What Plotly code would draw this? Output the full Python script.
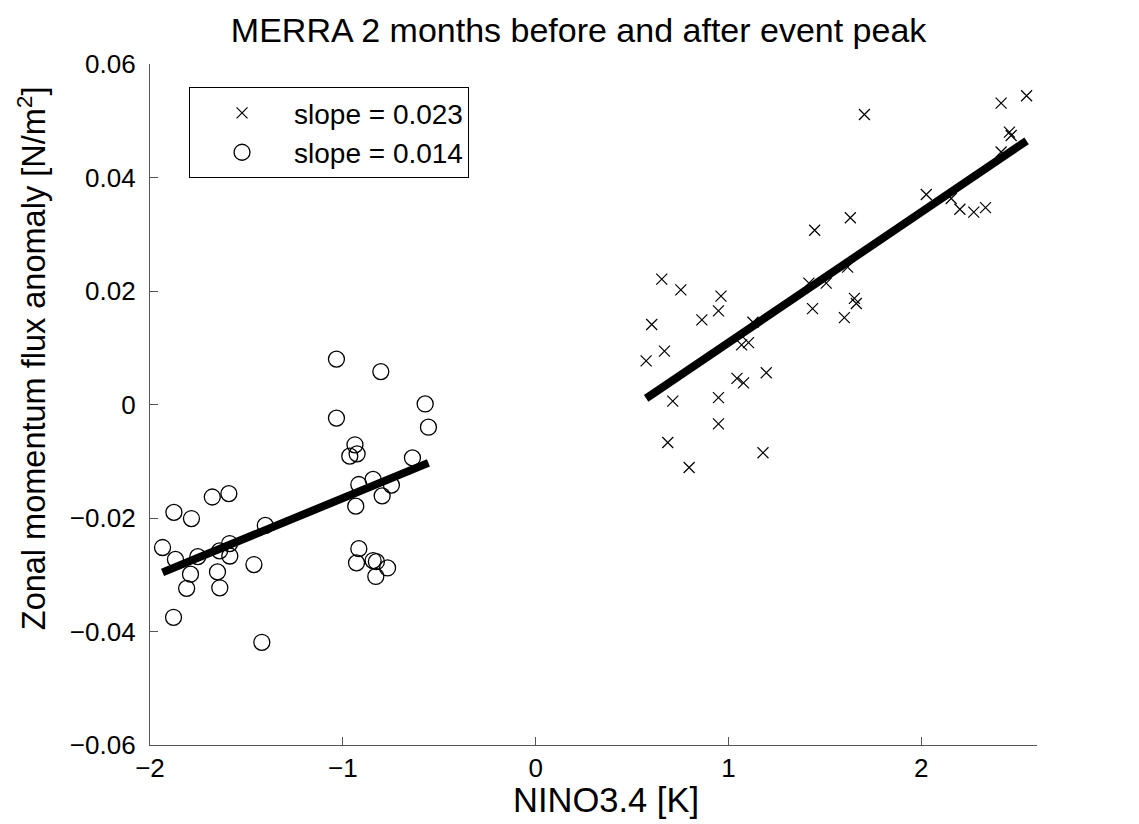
import plotly.graph_objects as go

# NINO3.4 index and zonal momentum flux anomaly, El Nino events (crosses)
nino_pos = [2.546, 2.414, 1.705, 2.457, 2.466, 2.414, 2.026, 2.155, 2.200, 2.272,
            2.333, 1.632, 1.447, 1.618, 1.417, 1.507, 1.653, 1.663, 1.436, 1.601,
            0.654, 0.753, 0.961, 0.948, 0.862, 1.127, 0.602, 0.668, 0.573, 1.068,
            1.104, 1.044, 1.078, 1.196, 0.711, 0.948, 0.948, 0.685, 1.179, 0.796]
flux_pos = [0.0544, 0.0531, 0.0511, 0.0480, 0.0474, 0.0445, 0.0370, 0.0363, 0.0344, 0.0339,
            0.0347, 0.0329, 0.0307, 0.0242, 0.0214, 0.0214, 0.0187, 0.0178, 0.0169, 0.0153,
            0.0221, 0.0202, 0.0191, 0.0165, 0.0149, 0.0145, 0.0141, 0.0094, 0.0077, 0.0105,
            0.0109, 0.0046, 0.0038, 0.0056, 0.0006, 0.0012, -0.0034, -0.0067, -0.0085, -0.0111]

# La Nina events (circles)
nino_neg = [-1.033, -0.803, -0.573, -0.556, -1.033, -0.937, -0.964, -0.926, -0.639, -0.917,
            -0.843, -0.748, -0.796, -0.933, -0.917, -0.929, -0.843, -0.826, -0.768, -0.829,
            -1.591, -1.677, -1.876, -1.785, -1.402, -1.935, -1.868, -1.752, -1.639, -1.587,
            -1.586, -1.790, -1.650, -1.810, -1.638, -1.461, -1.878, -1.420]
flux_neg = [0.0080, 0.0058, 0.0001, -0.0040, -0.0024, -0.0071, -0.0091, -0.0087, -0.0094, -0.0141,
            -0.0132, -0.0142, -0.0161, -0.0179, -0.0254, -0.0279, -0.0275, -0.0277, -0.0288, -0.0303,
            -0.0157, -0.0163, -0.0190, -0.0201, -0.0213, -0.0252, -0.0273, -0.0268, -0.0258, -0.0245,
            -0.0267, -0.0299, -0.0295, -0.0324, -0.0323, -0.0282, -0.0375, -0.0419]

# Regression lines: slope and intercept for each group
slope_pos, icept_pos = 0.023, -0.0121
slope_neg, icept_neg = 0.014, -0.0025

x_ticks = [-2, -1, 0, 1, 2]
y_ticks = [-0.06, -0.04, -0.02, 0, 0.02, 0.04, 0.06]


def fmt(v):
    s = ("%g" % v)
    return s.replace("-", "\u2212")


def fit_line(xs, slope, icept):
    xr = [min(xs), max(xs)]
    return xr, [slope * v + icept for v in xr]


fig = go.Figure()

fig.add_trace(go.Scatter(
    x=nino_pos, y=flux_pos, mode="markers",
    name="slope = %.3f" % slope_pos,
    marker=dict(symbol="x-thin-open", size=11, color="black",
                line=dict(color="black", width=1.2)),
))
fig.add_trace(go.Scatter(
    x=nino_neg, y=flux_neg, mode="markers",
    name="slope = %.3f" % slope_neg,
    marker=dict(symbol="circle-open", size=16, color="black",
                line=dict(color="black", width=1.3)),
))

lx, ly = fit_line(nino_pos, slope_pos, icept_pos)
fig.add_trace(go.Scatter(x=lx, y=ly, mode="lines", showlegend=False,
                         line=dict(color="black", width=8)))
lx, ly = fit_line(nino_neg, slope_neg, icept_neg)
fig.add_trace(go.Scatter(x=lx, y=ly, mode="lines", showlegend=False,
                         line=dict(color="black", width=8)))

sans = "Liberation Sans, Arial, sans-serif"
tick_font = dict(family=sans, size=26, color="black")

fig.update_layout(
    width=1139, height=824,
    margin=dict(l=150, r=102, t=64, b=79),
    paper_bgcolor="white", plot_bgcolor="white",
    title=dict(text="MERRA 2 months before and after event peak",
               x=0.508, xanchor="center", y=0.963, yanchor="middle",
               font=dict(family=sans, size=34, color="black")),
    legend=dict(x=0.044, y=0.966, xanchor="left", yanchor="top",
                bgcolor="white", bordercolor="black", borderwidth=1,
                font=dict(family=sans, size=28, color="black"),
                itemwidth=94, tracegroupgap=0),
    showlegend=True,
)

fig.update_xaxes(
    range=[-2, 2.6], tickvals=x_ticks, ticktext=[fmt(v) for v in x_ticks],
    ticks="inside", ticklen=8, tickcolor="#555", showline=True, linecolor="#555", linewidth=1.3,
    showgrid=False, zeroline=False, tickfont=tick_font,
)
fig.update_yaxes(
    range=[-0.06, 0.06], tickvals=y_ticks, ticktext=[fmt(v) for v in y_ticks],
    ticks="inside", ticklen=8, tickcolor="#555", showline=True, linecolor="#555", linewidth=1.3,
    showgrid=False, zeroline=False, tickfont=tick_font, ticklabelstandoff=8,
)

# Axis titles
fig.add_annotation(text="NINO3.4 [K]", xref="paper", yref="paper", x=0.514, y=-0.081,
                   xanchor="center", yanchor="middle", showarrow=False,
                   font=dict(family=sans, size=34.5, color="black"))
fig.add_annotation(text="Zonal momentum flux anomaly [N/m<sup>2</sup>]", xref="paper", yref="paper",
                   x=-0.133, y=0.568, xanchor="center", yanchor="middle", textangle=-90,
                   showarrow=False, font=dict(family=sans, size=32.5, color="black"))

fig.write_html("out.html")
